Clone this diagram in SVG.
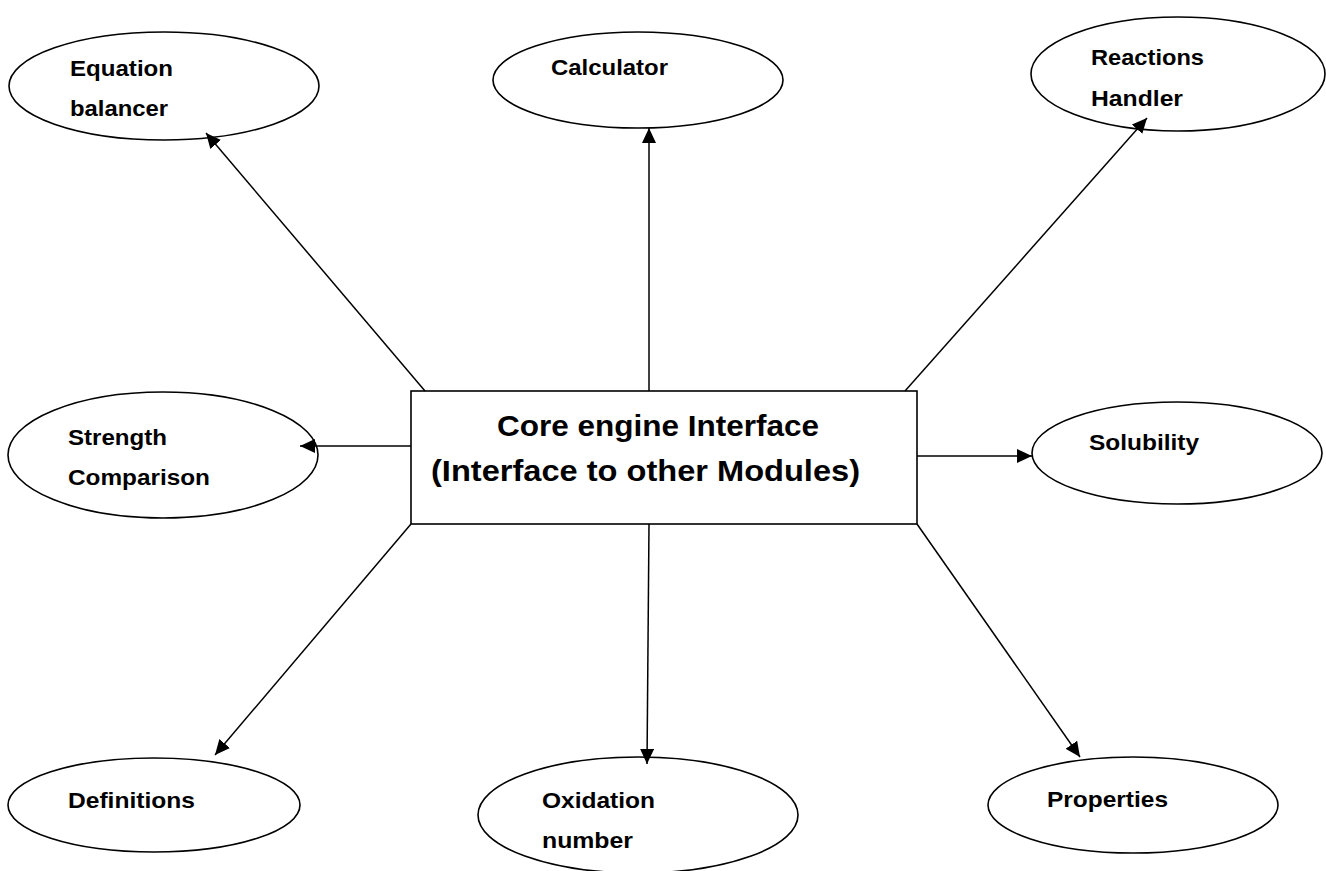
<svg xmlns="http://www.w3.org/2000/svg" width="1326" height="871" viewBox="0 0 1326 871">
  <style>
    .node { fill: #ffffff; stroke: #000000; stroke-width: 1.6; }
    .lbl { font-family: "Liberation Sans", Arial, sans-serif; font-weight: bold; font-size: 22px; fill: #000000; }
    .core { font-family: "Liberation Sans", Arial, sans-serif; font-weight: bold; font-size: 30px; fill: #000000; }
    .conn { stroke: #000000; stroke-width: 1.5; fill: none; marker-end: url(#arrow); }
  </style>
  <defs>
    <marker id="arrow" markerUnits="userSpaceOnUse" markerWidth="16" markerHeight="14" refX="15" refY="7" orient="auto">
      <path d="M0,0 L15,7 L0,14 Z" fill="#000000"/>
    </marker>
  </defs>
  <rect width="1326" height="871" fill="#ffffff"/>

  <g id="core">
    <rect class="node" x="411" y="391" width="506" height="133"/>
    <text class="core" x="497" y="436" textLength="322" lengthAdjust="spacingAndGlyphs">Core engine Interface</text>
    <text class="core" x="431" y="481" textLength="429" lengthAdjust="spacingAndGlyphs">(Interface to other Modules)</text>
  </g>

  <g id="equation-balancer">
    <ellipse class="node" cx="164" cy="86" rx="155" ry="54"/>
    <text class="lbl" x="70" y="76" textLength="103" lengthAdjust="spacingAndGlyphs">Equation</text>
    <text class="lbl" x="70" y="116" textLength="98" lengthAdjust="spacingAndGlyphs">balancer</text>
  </g>

  <g id="calculator">
    <ellipse class="node" cx="638" cy="80" rx="145" ry="48"/>
    <text class="lbl" x="551" y="75" textLength="117" lengthAdjust="spacingAndGlyphs">Calculator</text>
  </g>

  <g id="reactions-handler">
    <ellipse class="node" cx="1178" cy="74" rx="147" ry="57"/>
    <text class="lbl" x="1091" y="65" textLength="113" lengthAdjust="spacingAndGlyphs">Reactions</text>
    <text class="lbl" x="1091" y="106" textLength="92" lengthAdjust="spacingAndGlyphs">Handler</text>
  </g>

  <g id="strength-comparison">
    <ellipse class="node" cx="163" cy="455" rx="155" ry="63"/>
    <text class="lbl" x="68" y="445" textLength="99" lengthAdjust="spacingAndGlyphs">Strength</text>
    <text class="lbl" x="68" y="485" textLength="142" lengthAdjust="spacingAndGlyphs">Comparison</text>
  </g>

  <g id="solubility">
    <ellipse class="node" cx="1177" cy="453" rx="145" ry="51"/>
    <text class="lbl" x="1089" y="450" textLength="110" lengthAdjust="spacingAndGlyphs">Solubility</text>
  </g>

  <g id="definitions">
    <ellipse class="node" cx="154" cy="805" rx="146" ry="47"/>
    <text class="lbl" x="68" y="808" textLength="127" lengthAdjust="spacingAndGlyphs">Definitions</text>
  </g>

  <g id="oxidation-number">
    <ellipse class="node" cx="638" cy="815" rx="160" ry="58"/>
    <text class="lbl" x="542" y="808" textLength="113" lengthAdjust="spacingAndGlyphs">Oxidation</text>
    <text class="lbl" x="542" y="848" textLength="91" lengthAdjust="spacingAndGlyphs">number</text>
  </g>

  <g id="properties">
    <ellipse class="node" cx="1133" cy="805" rx="145" ry="48"/>
    <text class="lbl" x="1047" y="807" textLength="121" lengthAdjust="spacingAndGlyphs">Properties</text>
  </g>

  <g id="connectors">
    <line class="conn" x1="425" y1="391" x2="206" y2="133"/>
    <line class="conn" x1="649" y1="391" x2="649" y2="128"/>
    <line class="conn" x1="905" y1="391" x2="1147" y2="118"/>
    <line class="conn" x1="411" y1="446" x2="300" y2="446"/>
    <line class="conn" x1="917" y1="456" x2="1032" y2="456"/>
    <line class="conn" x1="411" y1="524" x2="215" y2="755"/>
    <line class="conn" x1="649" y1="524" x2="647" y2="764"/>
    <line class="conn" x1="917" y1="524" x2="1080" y2="757"/>
  </g>
</svg>
